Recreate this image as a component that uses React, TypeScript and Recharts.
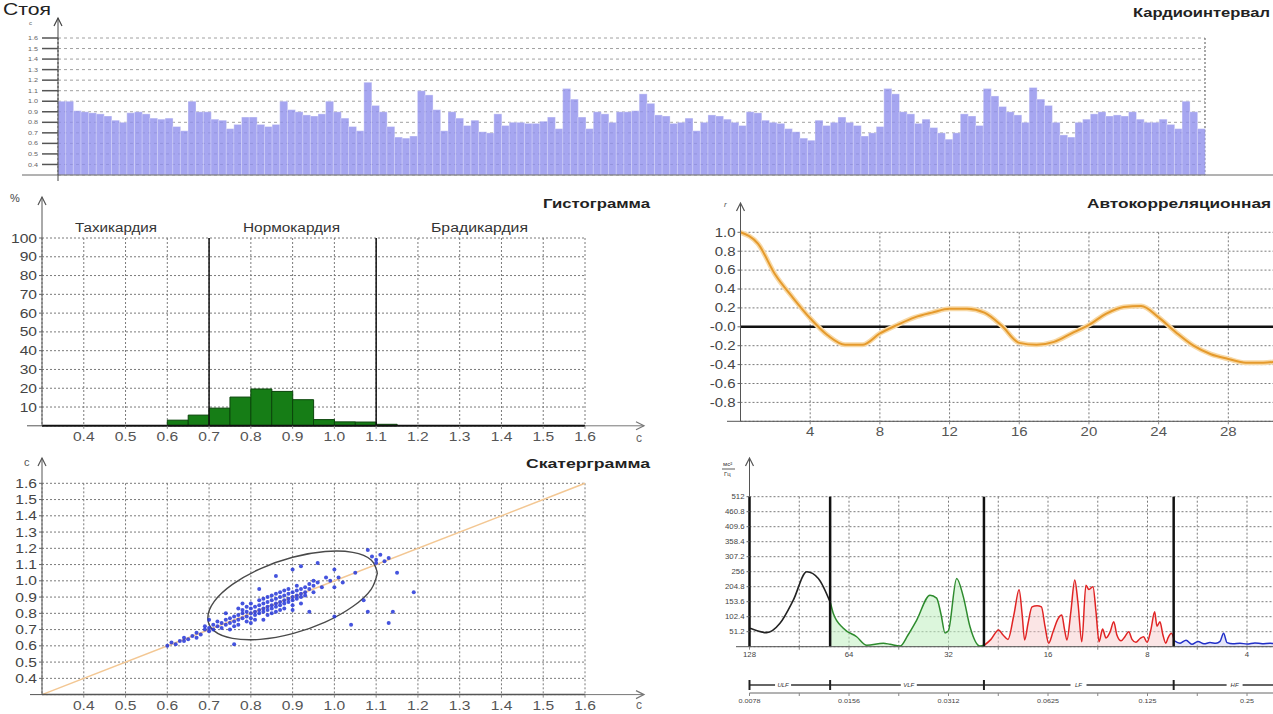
import React from 'react';
import { ComposedChart, Bar, Line, Area, Scatter, XAxis, YAxis, CartesianGrid, ReferenceLine } from 'recharts';

const FONT = '"Liberation Sans", Arial, sans-serif';

// --- Кардиоинтервалограмма (RR, s) ---
const rrIntervals = [
  1.0, 1.0, 0.91, 0.9, 0.89, 0.88, 0.86, 0.82, 0.8, 0.89,
  0.9, 0.88, 0.84, 0.83, 0.84, 0.76, 0.72, 1.0, 0.9, 0.9,
  0.83, 0.82, 0.74, 0.78, 0.85, 0.85, 0.78, 0.76, 0.78, 1.0,
  0.92, 0.9, 0.87, 0.86, 0.88, 1.0, 0.9, 0.84, 0.76, 0.72,
  1.18, 0.96, 0.9, 0.76, 0.66, 0.65, 0.67, 1.1, 1.06, 0.92,
  0.72, 0.9, 0.84, 0.77, 0.82, 0.71, 0.7, 0.88, 0.77, 0.8,
  0.8, 0.79, 0.79, 0.81, 0.85, 0.74, 1.12, 1.02, 0.85, 0.74,
  0.9, 0.88, 0.8, 0.9, 0.9, 0.91, 1.07, 0.98, 0.87, 0.86,
  0.79, 0.8, 0.84, 0.72, 0.8, 0.87, 0.86, 0.83, 0.8, 0.77,
  0.9, 0.89, 0.82, 0.8, 0.79, 0.74, 0.71, 0.65, 0.63, 0.82,
  0.77, 0.8, 0.85, 0.8, 0.77, 0.67, 0.7, 0.76, 1.12, 1.07,
  0.9, 0.88, 0.79, 0.83, 0.75, 0.7, 0.64, 0.7, 0.88, 0.86,
  0.77, 1.12, 1.05, 0.95, 0.9, 0.87, 0.8, 1.13, 1.02, 0.96,
  0.8, 0.68, 0.66, 0.8, 0.83, 0.88, 0.9, 0.86, 0.87, 0.86,
  0.9, 0.83, 0.8, 0.8, 0.83, 0.78, 0.74, 1.0, 0.9, 0.74,
];
const rrTicks = [0.4, 0.5, 0.6, 0.7, 0.8, 0.9, 1.0, 1.1, 1.2, 1.3, 1.4, 1.5, 1.6];
const beatTicks = [0, 30, 60, 90, 120, 150];

// --- Гистограмма ---
const histBinCenters = [0.625, 0.675, 0.725, 0.775, 0.825, 0.875, 0.925, 0.975, 1.025, 1.075, 1.125];
const histPercents = [3.0, 5.7, 9.4, 15.3, 19.6, 18.3, 13.9, 3.3, 2.1, 2.0, 0.8];
const secTicks = [0.4, 0.5, 0.6, 0.7, 0.8, 0.9, 1.0, 1.1, 1.2, 1.3, 1.4, 1.5, 1.6];
const percentTicks = [10, 20, 30, 40, 50, 60, 70, 80, 90, 100];
const zoneBounds = [0.7, 1.1];

// --- Автокорреляционная функция ---
const acLags = [0, 1, 2, 3, 4, 5, 6, 7, 8, 9, 10, 11, 12, 13, 14, 15, 16, 17, 18, 19, 20, 21, 22, 23, 24, 25, 26, 27, 28, 29, 30, 31];
const acValues = [1.0, 0.88, 0.55, 0.31, 0.09, -0.09, -0.19, -0.19, -0.07, 0.02, 0.1, 0.15, 0.19, 0.19, 0.15, 0.01,
  -0.17, -0.19, -0.16, -0.07, 0.02, 0.14, 0.21, 0.22, 0.1, -0.06, -0.2, -0.29, -0.34, -0.38, -0.38, -0.36];
const lagTicks = [4, 8, 12, 16, 20, 24, 28];
const acTicks = [-0.8, -0.6, -0.4, -0.2, 0, 0.2, 0.4, 0.6, 0.8, 1.0];

// --- Скатерграмма (RRn, RRn+1) ---
const scatterPoints: [number, number][] = [
  [0.6, 0.6], [0.61, 0.62], [0.62, 0.61], [0.63, 0.63], [0.64, 0.63], [0.64, 0.65], [0.65, 0.64], [0.66, 0.66],
  [0.67, 0.65], [0.67, 0.68], [0.68, 0.67], [0.69, 0.7], [0.7, 0.69], [0.7, 0.71], [0.71, 0.7], [0.71, 0.73],
  [0.72, 0.72], [0.72, 0.75], [0.73, 0.74], [0.73, 0.71], [0.74, 0.76], [0.74, 0.73], [0.75, 0.77], [0.75, 0.74],
  [0.75, 0.7], [0.76, 0.78], [0.76, 0.75], [0.76, 0.61], [0.77, 0.79], [0.77, 0.76], [0.77, 0.73], [0.78, 0.8],
  [0.78, 0.77], [0.78, 0.82], [0.79, 0.78], [0.79, 0.81], [0.79, 0.75], [0.8, 0.8], [0.8, 0.83], [0.8, 0.77],
  [0.8, 0.86], [0.81, 0.81], [0.81, 0.84], [0.81, 0.79], [0.82, 0.82], [0.82, 0.85], [0.82, 0.8], [0.82, 0.88],
  [0.83, 0.83], [0.83, 0.86], [0.83, 0.81], [0.83, 0.76], [0.84, 0.84], [0.84, 0.87], [0.84, 0.82], [0.84, 0.9],
  [0.85, 0.85], [0.85, 0.88], [0.85, 0.83], [0.85, 0.8], [0.86, 0.86], [0.86, 0.89], [0.86, 0.84], [0.86, 0.92],
  [0.87, 0.87], [0.87, 0.9], [0.87, 0.85], [0.87, 0.82], [0.88, 0.88], [0.88, 0.91], [0.88, 0.86], [0.88, 0.94],
  [0.89, 0.89], [0.89, 0.92], [0.89, 0.87], [0.9, 0.9], [0.9, 0.93], [0.9, 0.88], [0.9, 0.85], [0.91, 0.91],
  [0.91, 0.94], [0.91, 0.89], [0.92, 0.92], [0.92, 0.95], [0.92, 0.9], [0.93, 0.93], [0.93, 0.96], [0.93, 0.91],
  [0.94, 0.95], [0.94, 0.81], [0.94, 0.98], [0.95, 0.97], [0.95, 0.93], [0.96, 0.99], [0.96, 1.11], [0.97, 0.96],
  [0.98, 1.02], [0.99, 1.0], [1.0, 1.07], [1.0, 0.96], [1.0, 0.78], [1.01, 1.02], [1.02, 0.99], [1.04, 0.73],
  [1.05, 1.05], [1.07, 0.88], [1.08, 0.81], [1.08, 1.19], [1.09, 1.15], [1.1, 1.13], [1.1, 1.11], [1.11, 1.16],
  [1.12, 1.12], [1.13, 1.14], [1.13, 0.74], [1.14, 0.81], [1.15, 1.05], [1.19, 0.93], [0.86, 1.03], [0.9, 1.07],
  [0.92, 1.09], [0.82, 0.95], [0.78, 0.86], [0.74, 0.8], [0.7, 0.76], [0.69, 0.72],
  [0.79, 0.84], [0.81, 0.76], [0.83, 0.89], [0.84, 0.79], [0.85, 0.91], [0.86, 0.81], [0.87, 0.93], [0.88, 0.83],
  [0.89, 0.95], [0.9, 0.82], [0.91, 0.97], [0.92, 0.86], [0.77, 0.83], [0.76, 0.72], [0.8, 0.74], [0.95, 1.0],
];
// outline of the SD1/SD2 ellipse
const ellipsePoints: [number, number][] = [
  [1.103, 1.049], [1.088, 1.128], [1.044, 1.175], [0.978, 1.18], [0.9, 1.145], [0.822, 1.074], [0.756, 0.978],
  [0.712, 0.872], [0.697, 0.771], [0.712, 0.692], [0.756, 0.646], [0.822, 0.64], [0.9, 0.675], [0.978, 0.746],
  [1.044, 0.842], [1.088, 0.948], [1.103, 1.049],
];

// --- Спектр (частота, Гц; мощность, мс²/Гц) ---
const ulfSpectrum: [number, number][] = [
  [0.00785, 63], [0.0088, 48], [0.00966, 80], [0.0106, 159], [0.01164, 256], [0.01262, 233], [0.01373, 150],
];
const vlfSpectrum: [number, number][] = [
  [0.01373, 150], [0.014, 114], [0.01502, 63], [0.01648, 34], [0.01768, 5], [0.01985, 12], [0.0208, 8], [0.0223, 2],
  [0.02357, 40], [0.02504, 91], [0.02747, 176], [0.02877, 166], [0.02967, 110], [0.0305, 47], [0.03121, 54],
  [0.03308, 233], [0.03464, 171], [0.0363, 68], [0.03892, 2], [0.04023, 6],
];
const lfSpectrum: [number, number][] = [
  [0.04023, 6], [0.04201, 25], [0.04429, 57], [0.0457, 40], [0.0473, 25], [0.0493, 110], [0.0511, 194], [0.0522, 110],
  [0.0531, 23], [0.0544, 80], [0.0559, 136], [0.0579, 140], [0.0597, 136], [0.0612, 70], [0.0628, 12], [0.0647, 50],
  [0.067, 95], [0.0688, 108], [0.0701, 60], [0.0713, 23], [0.0733, 120], [0.0753, 228], [0.077, 150], [0.0791, 17],
  [0.0814, 210], [0.0831, 195], [0.0855, 205], [0.0873, 120], [0.0892, 17], [0.0914, 60], [0.0936, 30], [0.0963, 50],
  [0.0988, 85], [0.101, 40], [0.104, 20], [0.1069, 35], [0.1097, 51], [0.1122, 25], [0.1153, 15], [0.1187, 28],
  [0.1216, 34], [0.1246, 15], [0.1281, 60], [0.1314, 119], [0.1335, 70], [0.1363, 85], [0.1392, 40], [0.142, 12],
  [0.1442, 30], [0.1476, 46], [0.1508, 20],
];
const hfSpectrum: [number, number][] = [
  [0.1508, 20], [0.1568, 12], [0.1635, 22], [0.1703, 8], [0.1777, 18], [0.1853, 10], [0.1932, 14], [0.2014, 12],
  [0.2072, 18], [0.2123, 46], [0.2175, 14], [0.2267, 10], [0.2381, 12], [0.25, 9], [0.2642, 13], [0.278, 10],
  [0.2931, 12], [0.3098, 8],
];
const bandEdges = [0.0078125, 0.0137, 0.04, 0.15];
const bandNames = ['ULF', 'VLF', 'LF', 'HF'];
const bandCenters = [0.00987, 0.0237, 0.0773, 0.2293];
const freqTicks = [0.0078125, 0.01105, 0.015625, 0.0221, 0.03125, 0.0442, 0.0625, 0.0884, 0.125, 0.1768, 0.25, 0.3536, 0.5];
const octaveFreqs = [0.0078125, 0.015625, 0.03125, 0.0625, 0.125, 0.25];
const periodLabels = ['128', '64', '32', '16', '8', '4'];
const freqLabels = ['0.0078', '0.0156', '0.0312', '0.0625', '0.125', '0.25'];
const powerTicks = [51.2, 102.4, 153.6, 204.8, 256, 307.2, 358.4, 409.6, 460.8, 512];

const rrTable = rrIntervals.map((rr, i) => ({ beat: i + 0.5, rr }));
const histTable = histBinCenters.map((x, i) => ({ x, p: histPercents[i] }));
const acTable = acLags.map((lag, i) => ({ lag, r: acValues[i] }));
const scatterTable = scatterPoints.map(([x, y]) => ({ x, y }));
const ellipseTable = ellipsePoints.map(([x, y]) => ({ x, y }));
const toSpec = (s: [number, number][]) => s.map(([f, p]) => ({ f, p }));

const near = (a: number, b: number) => Math.abs(a - b) < 1e-6;
const octaveLabel = (labels: string[]) => (v: number) => {
  const i = octaveFreqs.findIndex((o) => near(o, v));
  return i >= 0 ? labels[i] : '';
};

const makeTick = (o: { size: number; sx?: number; fmt?: (v: number) => string; dy?: string; color?: string }) => (props: any) => {
  const { x, y, payload, textAnchor } = props;
  const label = o.fmt ? o.fmt(payload.value) : String(payload.value);
  if (!label) return <g />;
  return (
    <g transform={`translate(${x},${y})`}>
      <text transform={`scale(${o.sx ?? 1.2},1)`} textAnchor={textAnchor} dy={o.dy ?? '0.35em'}
        fontSize={o.size} fontFamily={FONT} fill={o.color ?? '#3a3a3a'}>{label}</text>
    </g>
  );
};

const BandTick = (props: any) => {
  const { x, y, payload } = props;
  if (bandEdges.some((e) => near(e, payload.value))) {
    return <line x1={x} x2={x} y1={y - 5} y2={y + 5} stroke="#222" strokeWidth={2} />;
  }
  const i = bandCenters.findIndex((c) => near(c, payload.value));
  if (i < 0) return <g />;
  return (
    <g>
      <rect x={x - 8} y={y - 3} width={16} height={6} fill="#fff" />
      <text x={x} y={y} dy="0.35em" textAnchor="middle" fontSize={6} fontStyle="italic" fontFamily={FONT} fill="#333">{bandNames[i]}</text>
    </g>
  );
};

const fix1 = (v: number) => v.toFixed(1);
const grid = { stroke: '#7a7a7a', strokeDasharray: '2 2' };

const Up = ({ x, y, c = '#555' }: any) => (
  <polyline points={`${x - 4},${y + 8} ${x},${y} ${x + 4},${y + 8}`} fill="none" stroke={c} strokeWidth={1.2} />
);
const Right = ({ x, y, c = '#777' }: any) => (
  <polyline points={`${x - 8},${y - 4} ${x},${y} ${x - 8},${y + 4}`} fill="none" stroke={c} strokeWidth={1.2} />
);
const T = ({ x, y, w, size = 13, anchor = 'start', weight = 'normal', italic = false, color = '#222', children }: any) => (
  <text x={x} y={y} fontSize={size} fontFamily={FONT} fontWeight={weight} textAnchor={anchor}
    textLength={w} lengthAdjust={w ? 'spacingAndGlyphs' : undefined} fill={color}
    fontStyle={italic ? 'italic' : 'normal'}>{children}</text>
);

const Overlay = () => (
  <svg width={1273} height={714} style={{ position: 'absolute', left: 0, top: 0, pointerEvents: 'none' }}>
    {/* top */}
    <T x={3} y={15} size={17} w={48} color="#222">Стоя</T>
    <T x={1133} y={17} size={13} w={137} weight="bold">Кардиоинтервал</T>
    <line x1={58} y1={18} x2={58} y2={38} stroke="#444" />
    <line x1={58} y1={175} x2={58} y2={181} stroke="#444" />
    <line x1={22} y1={175} x2={58} y2={175} stroke="#666" />
    <line x1={1205} y1={175} x2={1273} y2={175} stroke="#666" />
    <Up x={58} y={18} c="#444" />
    <T x={29} y={25} size={6} color="#666">c</T>
    {/* histogram */}
    <T x={543} y={208} size={13} w={107} weight="bold">Гистограмма</T>
    <T x={75} y={232} size={12.5} w={82} color="#333">Тахикардия</T>
    <T x={243} y={232} size={12.5} w={97} color="#333">Нормокардия</T>
    <T x={431} y={232} size={12.5} w={97} color="#333">Брадикардия</T>
    <line x1={42} y1={197} x2={42} y2={238} stroke="#555" />
    <Up x={42} y={197} />
    <line x1={27} y1={425.8} x2={42} y2={425.8} stroke="#555" />
    <line x1={585} y1={425.8} x2={644} y2={425.8} stroke="#777" />
    <Right x={644} y={425.8} />
    <T x={10} y={202} size={11} color="#444">%</T>
    <T x={636} y={442} size={12} color="#666">c</T>
    {/* autocorrelation */}
    <T x={1087} y={208} size={13} w={184} weight="bold">Автокорреляционная</T>
    <line x1={740.5} y1={203} x2={740.5} y2={232.3} stroke="#555" />
    <Up x={740.5} y={203} />
    <line x1={727} y1={421.3} x2={740.5} y2={421.3} stroke="#555" />
    <T x={724} y={207} size={8} italic color="#555">r</T>
    {/* scatter */}
    <T x={526} y={468} size={13} w={124} weight="bold">Скатерграмма</T>
    <line x1={42} y1={458} x2={42} y2={483.3} stroke="#555" />
    <Up x={42} y={458} />
    <line x1={30} y1={694.6} x2={42} y2={694.6} stroke="#555" />
    <line x1={585} y1={694.6} x2={644} y2={694.6} stroke="#777" />
    <Right x={644} y={694.6} />
    <T x={24} y={466} size={11} color="#555">c</T>
    <T x={636} y={709} size={12} color="#666">c</T>
    {/* spectrum */}
    <line x1={749.5} y1={458} x2={749.5} y2={496.7} stroke="#555" />
    <Up x={749.5} y={458} />
    <line x1={736} y1={646.7} x2={749.5} y2={646.7} stroke="#555" />
    <T x={723} y={466} size={6} color="#333">мс²</T>
    <line x1={722} y1={469} x2={735} y2={469} stroke="#333" strokeWidth={0.8} />
    <T x={724} y={476} size={6} color="#333">Гц</T>
  </svg>
);

export default function App() {
  return (
    <div style={{ position: 'absolute', left: 0, top: 0, width: 1273, height: 714, overflow: 'hidden', background: '#fff' }}>
      {/* RR intervals */}
      <div style={{ position: 'absolute', left: 0, top: 0 }}>
        <ComposedChart width={1273} height={190} data={rrTable} barCategoryGap={0} barGap={0}
          margin={{ top: 38, right: 68, bottom: 0, left: 0 }}>
          <CartesianGrid horizontal vertical={false} stroke="#a0a0a0" strokeDasharray="3 3" />
          <CartesianGrid horizontal={false} vertical stroke="#555" strokeDasharray="2 2" />
          <XAxis dataKey="beat" type="number" domain={[0, 150]} ticks={beatTicks} interval={0} tick={false}
            tickLine={false} axisLine={{ stroke: '#666' }} height={15} />
          <YAxis type="number" domain={[0.3, 1.6]} ticks={rrTicks} interval={0} width={58} tickSize={16} tickMargin={4}
            tickLine={{ stroke: '#555', strokeWidth: 1.5 }} axisLine={{ stroke: '#444' }}
            tick={makeTick({ size: 6, fmt: fix1, color: '#666' })} />
          <Bar dataKey="rr" fill="#9090ec" fillOpacity={0.8} stroke="#ffffff" strokeWidth={0.5} strokeOpacity={0.7}
            isAnimationActive={false} />
        </ComposedChart>
      </div>

      {/* histogram */}
      <div style={{ position: 'absolute', left: 0, top: 190 }}>
        <ComposedChart width={660} height={260} data={histTable} barCategoryGap={0}
          margin={{ top: 48, right: 75, bottom: 0, left: 0 }}>
          <CartesianGrid {...grid} />
          <XAxis dataKey="x" type="number" domain={[0.3, 1.6]} ticks={secTicks} interval={0} height={24.2}
            tickSize={3} tickLine={{ stroke: '#888' }} axisLine={{ stroke: '#111', strokeWidth: 2 }}
            tick={makeTick({ size: 13, fmt: fix1, dy: '0.8em', color: '#555' })} />
          <YAxis type="number" domain={[0, 100]} ticks={percentTicks} interval={0} width={42} tickSize={3}
            tickLine={{ stroke: '#666' }} axisLine={{ stroke: '#555' }}
            tick={makeTick({ size: 13, color: '#444' })} />
          <Bar dataKey="p" fill="#167d16" stroke="#0b450b" strokeWidth={1} isAnimationActive={false} />
          {zoneBounds.map((b) => (
            <ReferenceLine key={b} x={b} stroke="#111" strokeWidth={1.5} />
          ))}
        </ComposedChart>
      </div>

      {/* autocorrelation */}
      <div style={{ position: 'absolute', left: 680, top: 190 }}>
        <ComposedChart width={640} height={265} data={acTable} margin={{ top: 42.3, right: 22, bottom: 0, left: 0 }}>
          <CartesianGrid {...grid} />
          <XAxis dataKey="lag" type="number" domain={[0, 32]} ticks={lagTicks} interval={0} height={33.7}
            tickSize={3} tickLine={{ stroke: '#888' }} axisLine={{ stroke: '#555' }}
            tick={makeTick({ size: 12.5, dy: '0.8em', color: '#555' })} />
          <YAxis type="number" domain={[-1, 1]} ticks={acTicks} interval={0} width={60.5} tickSize={3}
            tickLine={{ stroke: '#666' }} axisLine={{ stroke: '#555' }}
            tick={makeTick({ size: 12.5, color: '#444', fmt: (v) => (near(v, 0) ? '-0.0' : v.toFixed(1)) })} />
          <ReferenceLine y={0} stroke="#111" strokeWidth={2.5} />
          <Line dataKey="r" type="monotone" stroke="#f8d9a6" strokeWidth={5} dot={false} isAnimationActive={false} />
          <Line dataKey="r" type="monotone" stroke="#e59a2c" strokeWidth={2} dot={false} isAnimationActive={false} />
        </ComposedChart>
      </div>

      {/* scattergram */}
      <div style={{ position: 'absolute', left: 0, top: 455 }}>
        <ComposedChart width={660} height={259} margin={{ top: 28.3, right: 75, bottom: 0, left: 0 }}>
          <CartesianGrid {...grid} />
          <XAxis dataKey="x" type="number" domain={[0.3, 1.6]} ticks={secTicks} interval={0} height={19.4}
            tickSize={3} tickLine={{ stroke: '#888' }} axisLine={{ stroke: '#555', strokeWidth: 1.5 }}
            tick={makeTick({ size: 13, fmt: fix1, dy: '0.8em', color: '#555' })} allowDataOverflow />
          <YAxis dataKey="y" type="number" domain={[0.3, 1.6]} ticks={rrTicks} interval={0} width={42} tickSize={3}
            tickLine={{ stroke: '#666' }} axisLine={{ stroke: '#555' }}
            tick={makeTick({ size: 13, fmt: fix1, color: '#444' })} allowDataOverflow />
          <ReferenceLine segment={[{ x: 0.3, y: 0.3 }, { x: 1.6, y: 1.6 }]} stroke="#f3c793" strokeWidth={1.5} />
          <Scatter data={scatterTable} dataKey="y" isAnimationActive={false}
            shape={(p: any) => <circle cx={p.cx} cy={p.cy} r={2} fill="#2536d8" fillOpacity={0.85} />} />
          <Line data={ellipseTable} dataKey="y" type="natural" stroke="#4a4a4a" strokeWidth={1.4} dot={false}
            isAnimationActive={false} />
        </ComposedChart>
      </div>

      {/* spectrum */}
      <div style={{ position: 'absolute', left: 690, top: 455 }}>
        <ComposedChart width={700} height={259} margin={{ top: 41.7, right: 43.5, bottom: 0, left: 0 }}>
          <CartesianGrid {...grid} xAxisId="a" />
          <XAxis xAxisId="a" dataKey="f" type="number" scale="log" domain={[0.0078125, 0.5]} ticks={freqTicks}
            interval={0} height={38.3} tickSize={3} tickLine={{ stroke: '#888' }} axisLine={{ stroke: '#555' }}
            allowDataOverflow tick={makeTick({ size: 6.5, dy: '0.8em', color: '#444', fmt: octaveLabel(periodLabels) })} />
          <XAxis xAxisId="b" dataKey="f" type="number" scale="log" domain={[0.0078125, 0.5]}
            ticks={[...bandEdges, ...bandCenters].sort((a, b) => a - b)} interval={0} height={8} tickSize={0} tickMargin={0}
            tickLine={false} axisLine={{ stroke: '#333', strokeWidth: 1.5 }} allowDataOverflow tick={BandTick} />
          <XAxis xAxisId="c" dataKey="f" type="number" scale="log" domain={[0.0078125, 0.5]} ticks={freqTicks}
            interval={0} height={21} tickSize={3} tickLine={{ stroke: '#888' }} axisLine={{ stroke: '#666' }}
            allowDataOverflow tick={makeTick({ size: 6, dy: '0.9em', color: '#444', fmt: octaveLabel(freqLabels) })} />
          <YAxis type="number" domain={[0, 512]} ticks={powerTicks} interval={0} width={59.5} tickSize={3}
            tickLine={{ stroke: '#666' }} axisLine={false}
            tick={makeTick({ size: 6.5, color: '#444', fmt: (v) => (Number.isInteger(v) ? String(v) : v.toFixed(1)) })} />
          <Area xAxisId="a" data={toSpec(vlfSpectrum)} dataKey="p" type="monotone" stroke="#2e8b2e" strokeWidth={1.5}
            fill="#bfeebf" fillOpacity={0.55} isAnimationActive={false} />
          <Area xAxisId="a" data={toSpec(lfSpectrum)} dataKey="p" type="monotone" stroke="#e02424" strokeWidth={1.5}
            fill="#f7c6c6" fillOpacity={0.45} isAnimationActive={false} />
          <Area xAxisId="a" data={toSpec(hfSpectrum)} dataKey="p" type="monotone" stroke="#2230c8" strokeWidth={1.5}
            fill="#c6c8f2" fillOpacity={0.45} isAnimationActive={false} />
          <Line xAxisId="a" data={toSpec(ulfSpectrum)} dataKey="p" type="monotone" stroke="#222" strokeWidth={1.6}
            dot={false} isAnimationActive={false} />
          {bandEdges.map((e) => (
            <ReferenceLine key={e} xAxisId="a" x={e} stroke="#111" strokeWidth={2.5} />
          ))}
        </ComposedChart>
      </div>

      <Overlay />
    </div>
  );
}
